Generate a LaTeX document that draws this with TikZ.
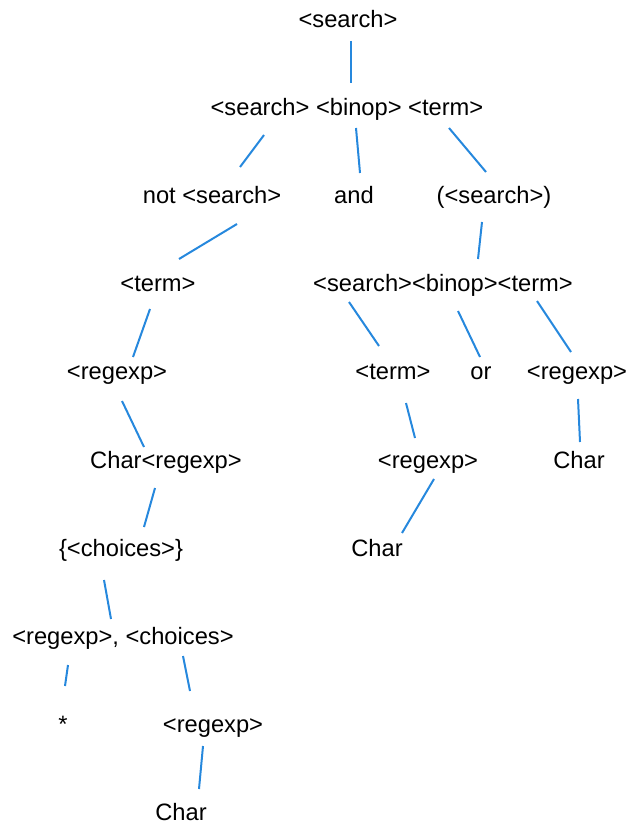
\documentclass[tikz,border=0pt]{standalone}
\usepackage{fontspec}
\setmainfont{Liberation Sans}
\usepackage{xcolor}
\usepackage{tikz}
\definecolor{edgeblue}{RGB}{38,136,221}
\tikzset{
  sym/.style={anchor=base, inner sep=0pt},
  edge/.style={edgeblue, line width=1pt},
}

\begin{document}
\begin{tikzpicture}[x=0.5pt, y=-0.5pt, font=\fontsize{11.85}{14}\selectfont]
    \useasboundingbox (0,0) rectangle (627,822);
    % Parse tree, left to right, row by row
    \node[sym] (s0) at (348,28) {<search>};
    \node[sym] (s1) at (347,116) {<search> <binop> <term>};
    \node[sym] (n1) at (212,204) {not <search>};
    \node[sym] (a1) at (354,204) {and};
    \node[sym] (p1) at (494,204) {(<search>)};
    \node[sym] (t1) at (158,292) {<term>};
    \node[sym] (s2) at (443,292) {<search><binop><term>};
    \node[sym] (r1) at (117,380) {<regexp>};
    \node[sym] (t2) at (393,380) {<term>};
    \node[sym] (o1) at (481,380) {or};
    \node[sym] (r2) at (577,380) {<regexp>};
    \node[sym] (c1) at (166,468) {Char<regexp>};
    \node[sym] (r3) at (428,468) {<regexp>};
    \node[sym] (ch1) at (579,468) {Char};
    \node[sym] (b1) at (121,556) {\{<choices>\}};
    \node[sym] (ch2) at (377,556) {Char};
    \node[sym] (l1) at (123,644) {<regexp>, <choices>};
    \node[sym] (st) at (63,732) {*};
    \node[sym] (r4) at (213,732) {<regexp>};
    \node[sym] (ch3) at (181,820) {Char};
    % Branches
    \draw[edge] ([shift={(3,13)}]s0.base) -- ([shift={(4,-33)}]s1.base);
    \draw[edge] ([shift={(-83,19)}]s1.base) -- ([shift={(28,-37)}]n1.base);
    \draw[edge] ([shift={(9,12)}]s1.base) -- ([shift={(6,-31)}]a1.base);
    \draw[edge] ([shift={(102,12)}]s1.base) -- ([shift={(-8,-32)}]p1.base);
    \draw[edge] ([shift={(25,20)}]n1.base) -- ([shift={(21,-33)}]t1.base);
    \draw[edge] ([shift={(-12,18)}]p1.base) -- ([shift={(35,-33)}]s2.base);
    \draw[edge] ([shift={(-8,17)}]t1.base) -- ([shift={(16,-23)}]r1.base);
    \draw[edge] ([shift={(-94,10)}]s2.base) -- ([shift={(-14,-34)}]t2.base);
    \draw[edge] ([shift={(15,19)}]s2.base) -- ([shift={(-1,-23)}]o1.base);
    \draw[edge] ([shift={(94,9)}]s2.base) -- ([shift={(-6,-28)}]r2.base);
    \draw[edge] ([shift={(5,21)}]r1.base) -- ([shift={(-22,-21)}]c1.base);
    \draw[edge] ([shift={(13,23)}]t2.base) -- ([shift={(-13,-30)}]r3.base);
    \draw[edge] ([shift={(1,19)}]r2.base) -- ([shift={(1,-26)}]ch1.base);
    \draw[edge] ([shift={(-11,20)}]c1.base) -- ([shift={(23,-29)}]b1.base);
    \draw[edge] ([shift={(6,11)}]r3.base) -- ([shift={(25,-23)}]ch2.base);
    \draw[edge] ([shift={(-17,24)}]b1.base) -- ([shift={(-12,-25)}]l1.base);
    \draw[edge] ([shift={(-55,21)}]l1.base) -- ([shift={(2,-46)}]st.base);
    \draw[edge] ([shift={(60,12)}]l1.base) -- ([shift={(-23,-41)}]r4.base);
    \draw[edge] ([shift={(-10,14)}]r4.base) -- ([shift={(18,-31)}]ch3.base);
\end{tikzpicture}
\end{document}
